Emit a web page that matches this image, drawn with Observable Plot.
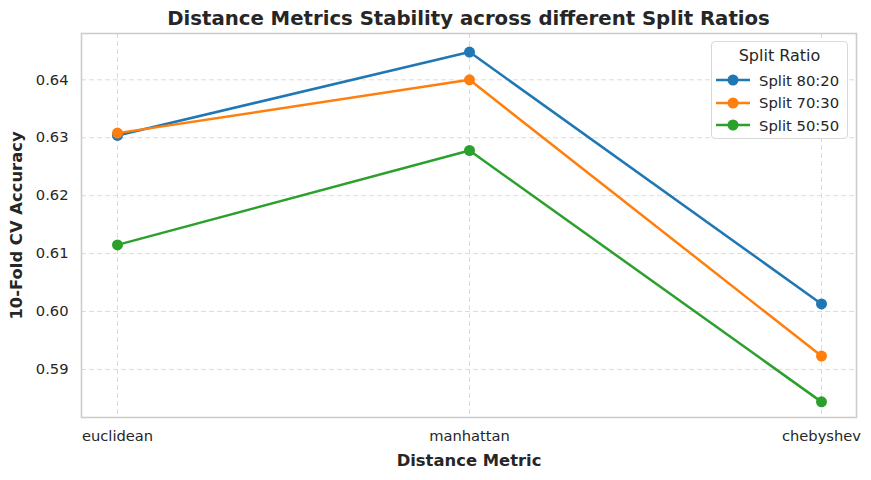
<!DOCTYPE html>
<html>
<head>
<meta charset="utf-8">
<script src="https://cdn.jsdelivr.net/npm/d3@7"></script>
<script src="https://cdn.jsdelivr.net/npm/@observablehq/plot@0.6"></script>
<style>
  html, body { margin: 0; padding: 0; background: #fff; }
  body { width: 871px; height: 480px; overflow: hidden; font-family: "DejaVu Sans", sans-serif; color: #262626; }
  #wrap { position: relative; width: 871px; height: 480px; }
  #title { height: 31px; box-sizing: border-box; padding-left: 81px; padding-right: 15px; text-align: center;
           font-weight: bold; font-size: 19.7px; line-height: 37px; color: #262626; white-space: nowrap; }
  #chart svg { display: block; }
  #chart svg [aria-label="x-axis label"] text,
  #chart svg [aria-label="y-axis label"] text { font-weight: bold; font-size: 16.4px; }
  #legend { position: absolute; left: 711px; top: 41px; width: 137px; height: 98px; box-sizing: border-box;
            border: 1px solid #d9d9d9; border-radius: 4px; background: rgba(255,255,255,0.85); }
  #legend .lt { position: absolute; left: 0; right: 0; top: 4px; text-align: center; font-size: 16px; }
  #legend .row { position: absolute; left: 4px; height: 20px; display: flex; align-items: center; font-size: 14.8px; white-space: nowrap; }
  #legend .row svg { margin-right: 9px; }
</style>
</head>
<body>
<div id="wrap">
  <div id="title"></div>
  <div id="chart"></div>
  <div id="legend"></div>
</div>
<script>
const titleText = "Distance Metrics Stability across different Split Ratios";
const xLabel = "Distance Metric";
const yLabel = "10-Fold CV Accuracy";
const legendTitle = "Split Ratio";

const metrics = ["euclidean", "manhattan", "chebyshev"];
const splits = ["Split 80:20", "Split 70:30", "Split 50:50"];
const split8020 = [0.6304, 0.6448, 0.6013];
const split7030 = [0.6308, 0.6400, 0.5923];
const split5050 = [0.6115, 0.6278, 0.5844];
const colors = ["#1f77b4", "#ff7f0e", "#2ca02c"];
const yTicks = [0.59, 0.60, 0.61, 0.62, 0.63, 0.64];
const yDomain = [0.5817, 0.6480];

const seriesValues = [split8020, split7030, split5050];
const data = [];
splits.forEach((s, i) => {
  metrics.forEach((m, j) => data.push({ split: s, metric: m, acc: seriesValues[i][j] }));
});

document.getElementById("title").textContent = titleText;

const chart = Plot.plot({
  width: 871,
  height: 449,
  marginTop: 2,
  marginLeft: 81,
  marginRight: 15,
  marginBottom: 63,
  style: { fontFamily: "DejaVu Sans, sans-serif", fontSize: "14.7px", color: "#262626", background: "#fff" },
  x: { type: "point", domain: metrics, padding: 0.1 },
  y: { domain: yDomain },
  color: { domain: splits, range: colors },
  marks: [
    Plot.gridY(yTicks, { stroke: "#dcdcdc", strokeOpacity: 1, strokeDasharray: "5,3", strokeWidth: 1 }),
    Plot.gridX(metrics, { stroke: "#dcdcdc", strokeOpacity: 1, strokeDasharray: "5,3", strokeWidth: 1 }),
    Plot.frame({ stroke: "#cccccc", strokeWidth: 1.6 }),
    Plot.axisY(yTicks, { tickFormat: d3.format(".2f"), tickSize: 0, tickPadding: 13, fontSize: 14.7,
      label: yLabel, labelAnchor: "center", labelOffset: 71, labelArrow: "none" }),
    Plot.axisX(metrics, { tickSize: 0, tickPadding: 13, fontSize: 14.7,
      label: xLabel, labelAnchor: "center", labelOffset: 48, labelArrow: "none" }),
    ...splits.map((s) => Plot.lineY(data.filter(d => d.split === s), { x: "metric", y: "acc", stroke: "split", strokeWidth: 2.5 })),
    ...splits.map((s) => Plot.dot(data.filter(d => d.split === s), { x: "metric", y: "acc", fill: "split", r: 5.5 }))
  ]
});
document.getElementById("chart").appendChild(chart);

// HTML legend
const legend = d3.select("#legend");
legend.append("div").attr("class", "lt").text(legendTitle);
splits.forEach((s, i) => {
  const row = legend.append("div").attr("class", "row").style("top", (28 + i * 22.5) + "px");
  const sw = row.append("svg").attr("width", 34).attr("height", 14);
  sw.append("line").attr("x1", 0).attr("x2", 34).attr("y1", 7).attr("y2", 7)
    .attr("stroke", colors[i]).attr("stroke-width", 2.5);
  sw.append("circle").attr("cx", 17).attr("cy", 7).attr("r", 5.5).attr("fill", colors[i]);
  row.append("span").text(s);
});
</script>
</body>
</html>
